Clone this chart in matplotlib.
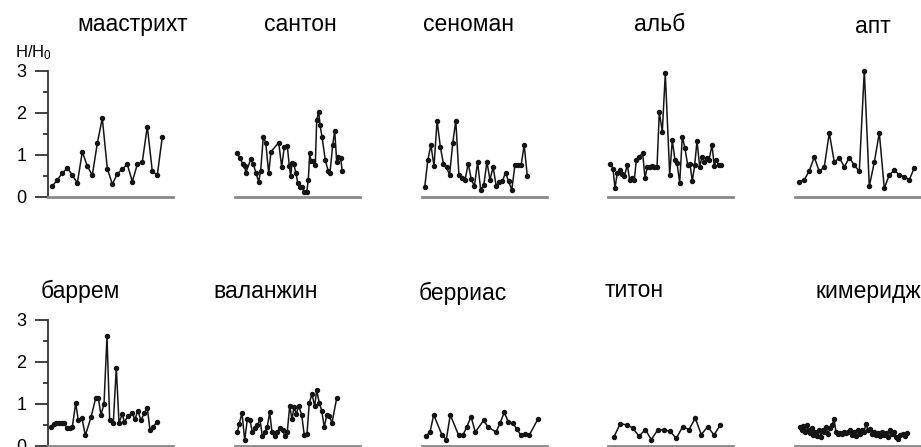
import matplotlib.pyplot as plt
from matplotlib.ticker import MultipleLocator

plt.rcParams['font.family'] = ['Liberation Sans', 'DejaVu Sans']
plt.rcParams['mathtext.default'] = 'regular'

# sample positions (relative, 0..125 along each panel) and H/H0 values
maastricht_x = [4.3, 9.3, 14.3, 19.3, 24.3, 29.3, 34.3, 39.3, 44.3, 49.3, 54.3, 59.3,
                64.3, 69.3, 74.3, 79.3, 84.3, 89.3, 94.3, 99.3, 104.3, 109.3, 114.3]
maastricht_y = [0.25, 0.40, 0.56, 0.68, 0.52, 0.32, 1.07, 0.73, 0.51, 1.27, 1.87, 0.67,
                0.30, 0.54, 0.66, 0.77, 0.36, 0.77, 0.83, 1.67, 0.61, 0.51, 1.43]

santon_x = [2.3, 5, 7.7, 10, 10.7, 15.7, 18.3, 21, 23.7, 25.7, 28.3, 30.7, 33.7, 36,
            43.7, 46.7, 49.3, 52.3, 54.3, 55.7, 57, 58.7, 61, 62.7, 64.7, 67, 69.3,
            71.7, 73.3, 74.7, 76, 78.3, 80.3, 81.7, 83.7, 85, 87, 90.3, 93.3, 95, 97.7,
            99.7, 101.7, 103.3, 105.7, 107.3]
santon_y = [1.03, 0.91, 0.79, 0.73, 0.56, 0.89, 0.78, 0.56, 0.36, 0.62, 1.43, 1.29,
            0.56, 1.07, 1.29, 0.71, 1.19, 1.21, 0.73, 0.49, 0.81, 0.78, 0.56, 0.33,
            0.24, 0.22, 0.12, 0.10, 0.40, 1.03, 0.85, 0.85, 0.75, 1.83, 2.02, 1.71,
            1.43, 0.87, 0.60, 0.57, 1.23, 1.57, 0.83, 0.94, 0.91, 0.60]

cenoman_x = [2.7, 5.8, 8.9, 12.0, 15.1, 18.3, 21.4, 24.5, 27.6, 30.7, 33.8, 36.9,
             40.0, 43.1, 46.2, 49.3, 52.4, 55.6, 58.7, 61.8, 64.9, 68.0, 71.1, 74.2,
             77.3, 80.4, 83.5, 86.6, 89.8, 92.9, 96.0, 99.1, 102.2, 105.3]
cenoman_y = [0.22, 0.87, 1.23, 0.73, 1.81, 1.19, 0.79, 0.70, 0.52, 1.27, 1.81, 0.52,
             0.44, 0.40, 0.79, 0.41, 0.25, 0.83, 0.16, 0.28, 0.83, 0.40, 0.71, 0.25,
             0.35, 0.37, 0.57, 0.37, 0.16, 0.75, 0.75, 0.75, 1.23, 0.49]

alb_x = [2.3, 5, 7, 9.3, 11.7, 14, 16.3, 19.3, 21.7, 24, 26.3, 28.3, 30.7, 34.7, 37,
         39.3, 41.7, 44, 46.3, 49, 51.3, 54.3, 57.3, 61.7, 64.3, 67, 69, 71.7, 74.3,
         77, 79.7, 82, 84.3, 86.7, 89, 91.7, 94, 96.3, 98.7, 101, 104, 106.3, 108.3,
         110.7, 113.3]
alb_y = [0.79, 0.67, 0.20, 0.57, 0.63, 0.54, 0.49, 0.75, 0.40, 0.44, 0.40, 0.87,
         0.95, 1.03, 0.44, 0.71, 0.70, 0.73, 0.71, 0.70, 2.02, 1.55, 2.94, 0.52,
         1.35, 0.87, 0.81, 0.33, 1.43, 1.15, 0.75, 0.78, 0.37, 0.75, 1.33, 0.71,
         0.95, 0.83, 0.91, 0.87, 1.23, 0.73, 0.87, 0.75, 0.75]

apt_x = [4.3, 9.3, 14.3, 19.3, 24.3, 29.3, 34.3, 39.3, 44.3, 49.3, 54.3, 59.3,
         64.3, 69.3, 74.3, 79.3, 84.3, 89.3, 94.3, 99.3, 104.3, 109.3, 114.3, 119.3]
apt_y = [0.36, 0.40, 0.62, 0.94, 0.60, 0.71, 1.52, 0.82, 0.93, 0.71, 0.93, 0.75,
         0.60, 3.00, 0.25, 0.82, 1.52, 0.20, 0.52, 0.63, 0.52, 0.48, 0.40, 0.69]

barrem_x = [2.7, 5.7, 8.3, 11, 13.7, 16.3, 19, 21.7, 24.3, 27.7, 30.3, 34, 37.3, 43,
            47.7, 50.3, 53, 56, 59, 61.7, 65.3, 68.3, 71, 74.3, 76.3, 80.3, 84.3, 87,
            89.7, 93, 96.3, 99.3, 102, 105.3, 109]
barrem_y = [0.45, 0.52, 0.53, 0.53, 0.54, 0.54, 0.41, 0.41, 0.44, 1.01, 0.60, 0.65,
            0.24, 0.67, 1.13, 1.13, 0.73, 0.99, 2.60, 0.60, 0.54, 1.85, 0.54, 0.75,
            0.56, 0.71, 0.77, 0.62, 0.83, 0.60, 0.77, 0.89, 0.37, 0.44, 0.57]

valanzhin_x = [2.3, 4.3, 7, 9.7, 12.3, 15, 17.3, 19.7, 22.3, 25, 27.3, 30, 32.3, 34.7,
               37, 40, 42.3, 45, 47.7, 49.7, 52.3, 54.7, 57, 59, 61.3, 63.7, 66.7,
               69.3, 72, 74.3, 77, 79.7, 81.7, 84.3, 86.7, 89.3, 91.7, 94.3, 97, 101.7]
valanzhin_y = [0.32, 0.52, 0.78, 0.12, 0.62, 0.60, 0.32, 0.41, 0.48, 0.62, 0.22, 0.33,
               0.45, 0.79, 0.32, 0.22, 0.32, 0.42, 0.37, 0.22, 0.33, 0.95, 0.62, 0.91,
               0.75, 0.94, 0.73, 0.24, 0.28, 1.02, 1.22, 0.94, 1.31, 1.01, 0.83, 0.43,
               0.73, 0.70, 0.54, 1.13]

berrias_x = [3.7, 8, 11.7, 20, 24.3, 28.3, 36.7, 40.7, 45, 49, 53.3, 61.7, 65.7, 74,
             78, 82.3, 86.3, 90.7, 94.7, 98.7, 103, 107.3, 115.7]
berrias_y = [0.22, 0.32, 0.73, 0.25, 0.14, 0.73, 0.24, 0.24, 0.45, 0.69, 0.32, 0.60,
             0.45, 0.32, 0.53, 0.79, 0.56, 0.53, 0.40, 0.25, 0.28, 0.25, 0.62]

titon_x = [6, 12.3, 18.7, 24.7, 31, 37.3, 43.3, 49.7, 56, 62, 68.3, 74.7, 81, 87.3,
           93.3, 99.7, 106, 112.3]
titon_y = [0.21, 0.52, 0.49, 0.42, 0.22, 0.38, 0.14, 0.37, 0.37, 0.34, 0.17, 0.45,
           0.38, 0.65, 0.26, 0.45, 0.25, 0.49]

kimeridzh_x = [5, 6.7, 8.3, 10, 11.7, 13.3, 15, 16.7, 18.3, 20.3, 22.3, 24.3, 26, 27.7,
               29.3, 31, 33, 35, 37, 39, 41, 43, 45, 47, 49, 51, 53, 55, 57, 59, 61,
               63, 65, 67, 69, 71, 73, 75, 77, 79, 81, 83, 85, 87, 89, 91, 93, 95, 97,
               99, 101, 103, 105, 107.7, 110.3, 112.3]
kimeridzh_y = [0.44, 0.36, 0.46, 0.32, 0.48, 0.38, 0.30, 0.41, 0.24, 0.33, 0.22, 0.36,
               0.20, 0.38, 0.33, 0.44, 0.28, 0.41, 0.48, 0.63, 0.32, 0.28, 0.30, 0.28,
               0.33, 0.30, 0.33, 0.36, 0.25, 0.32, 0.22, 0.36, 0.28, 0.38, 0.32, 0.52,
               0.36, 0.40, 0.28, 0.33, 0.24, 0.30, 0.22, 0.33, 0.24, 0.30, 0.20, 0.36,
               0.28, 0.32, 0.20, 0.16, 0.24, 0.28, 0.22, 0.30]

names = ["маастрихт", "сантон", "сеноман", "альб", "апт",
         "баррем", "валанжин", "берриас", "титон", "кимеридж"]
series = [(maastricht_x, maastricht_y), (santon_x, santon_y), (cenoman_x, cenoman_y),
          (alb_x, alb_y), (apt_x, apt_y), (barrem_x, barrem_y),
          (valanzhin_x, valanzhin_y), (berrias_x, berrias_y), (titon_x, titon_y),
          (kimeridzh_x, kimeridzh_y)]

# title centres / baselines in pixels
title_pos = [(133, 31), (300, 31), (468, 31), (660, 31), (873, 33),
             (80, 298), (266, 298), (463, 300), (634, 297), (868, 298)]

W, H = 921, 447
fig = plt.figure(figsize=(W / 100, H / 100), dpi=100)

lefts = [48, 235, 422, 608, 795]
zeros = [196.7, 445.5]
pw, ph = 125, 126

for i, (name, (xs, ys)) in enumerate(zip(names, series)):
    row, col = divmod(i, 5)
    ax = fig.add_axes([lefts[col] / W, 1 - zeros[row] / H, pw / W, ph / H])
    ax.patch.set_alpha(0)
    ax.plot(xs, ys, color="#151515", lw=1.1, marker="o", ms=2.9, clip_on=False)
    ax.set_xlim(0, 125)
    ax.set_ylim(0, 3)
    ax.spines["top"].set_visible(False)
    ax.spines["right"].set_visible(False)
    ax.spines["bottom"].set_color("#8a8a8a")
    ax.spines["bottom"].set_linewidth(2)
    ax.set_xticks([])
    if col == 0:
        ax.spines["left"].set_color("#333333")
        ax.spines["left"].set_linewidth(1.3)
        ax.yaxis.set_major_locator(MultipleLocator(1))
        ax.yaxis.set_minor_locator(MultipleLocator(0.5))
        ax.tick_params(axis="y", which="major", length=9.5, width=1.3,
                       color="#333333", labelsize=13, pad=6)
        ax.tick_params(axis="y", which="minor", length=3.8, width=1.3, color="#333333")
    else:
        ax.spines["left"].set_visible(False)
        ax.set_yticks([])

    tx, ty = title_pos[i]
    fig.text(tx / W, 1 - ty / H, name, ha="center", va="baseline", fontsize=16.5)

fig.text(15 / W, 1 - 57 / H, "H/H$_0$", fontsize=12, va="baseline")

fig.savefig("out.png", dpi=100)
